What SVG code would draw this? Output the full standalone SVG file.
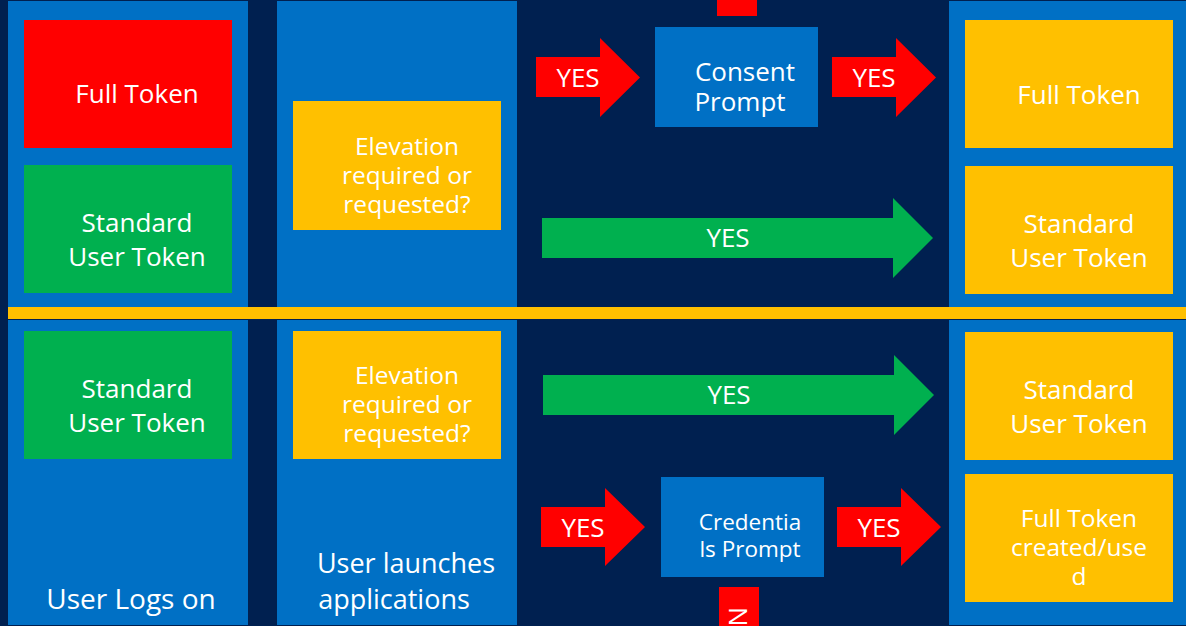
<svg xmlns="http://www.w3.org/2000/svg" width="1186" height="626" viewBox="0 0 1186 626">
<style>
.p{fill:#0070c5}.r{fill:#ff0000}.g{fill:#00b04f}.y{fill:#ffc000}
text{font-family:"Open Sans","Noto Sans","Liberation Sans",sans-serif;fill:#fff;text-anchor:middle;font-size:26px}
.s{font-size:24.500px}.m{font-size:22.500px}.a{font-size:26px}.l{font-size:28px}.k{font-size:27px}
</style>
<rect width="1186" height="626" fill="#002050"/>
<g id="panels">
<rect class="p" x="8" y="1" width="240" height="306"/><rect class="p" x="277" y="1" width="240" height="306"/><rect class="p" x="949" y="1" width="237" height="306"/>
<rect class="p" x="8" y="320" width="240" height="305"/><rect class="p" x="277" y="320" width="240" height="305"/><rect class="p" x="949" y="320" width="237" height="305"/>
<rect class="y" x="8" y="307" width="1178" height="12"/>
<text x="131" y="609" class="l">User Logs on</text>
<text x="406" y="573" class="k">User launches</text><text x="394" y="609" class="k">applications</text>
</g>
<g id="connectors">
<g id="c1"><path class="r" d="M536 57H600V38L640 77.500L600 117V97H536Z"/><text x="578" y="87" class="a">YES</text></g>
<g id="c2"><path class="r" d="M832 57H896V38L936 77.500L896 117V97H832Z"/><text x="874" y="87" class="a">YES</text></g>
<g id="c3"><path class="g" d="M542 218H893V198L933 238L893 278V258H542Z"/><text x="728" y="247" class="a">YES</text></g>
<g id="c4"><path class="g" d="M543 375H894V355L934 395L894 435V415H543Z"/><text x="729" y="404" class="a">YES</text></g>
<g id="c5"><path class="r" d="M541 507H605V488L645 527L605 566V547H541Z"/><text x="583" y="537" class="a">YES</text></g>
<g id="c6"><path class="r" d="M837 507H901V488L941 527L901 566V547H837Z"/><text x="879" y="537" class="a">YES</text></g>
<rect class="r" x="717" y="0" width="40" height="16"/>
<g id="c7"><rect class="r" x="719" y="587" width="40" height="39"/><text transform="translate(729 607) rotate(90)" style="text-anchor:start" class="a">N</text></g>
</g>
<g id="n1"><rect class="r" x="24" y="20" width="208" height="128"/><text x="137" y="103">Full Token</text></g>
<g id="n2"><rect class="g" x="24" y="165" width="208" height="128"/><text x="137" y="232">Standard</text><text x="137" y="266">User Token</text></g>
<g id="n3"><rect class="y" x="293" y="101" width="208" height="129"/><text x="407" y="155" class="s">Elevation</text><text x="407" y="184" class="s">required or</text><text x="407" y="213" class="s">requested?</text></g>
<g id="n4"><rect class="p" x="655" y="27" width="163" height="100"/><text x="745" y="81">Consent</text><text x="740" y="111">Prompt</text></g>
<g id="n5"><rect class="y" x="965" y="20" width="208" height="128"/><text x="1079" y="104">Full Token</text></g>
<g id="n6"><rect class="y" x="965" y="166" width="208" height="128"/><text x="1079" y="233">Standard</text><text x="1079" y="267">User Token</text></g>
<g id="n7"><rect class="g" x="24" y="331" width="208" height="128"/><text x="137" y="398">Standard</text><text x="137" y="432">User Token</text></g>
<g id="n8"><rect class="y" x="293" y="331" width="208" height="128"/><text x="407" y="384" class="s">Elevation</text><text x="407" y="413" class="s">required or</text><text x="407" y="442" class="s">requested?</text></g>
<g id="n9"><rect class="p" x="661" y="477" width="163" height="100"/><text x="750" y="530" class="m">Credentia</text><text x="750" y="557" class="m">ls Prompt</text></g>
<g id="n10"><rect class="y" x="965" y="332" width="208" height="128"/><text x="1079" y="399">Standard</text><text x="1079" y="433">User Token</text></g>
<g id="n11"><rect class="y" x="965" y="474" width="208" height="128"/><text x="1079" y="527" class="s">Full Token</text><text x="1079" y="556" class="s">created/use</text><text x="1079" y="585" class="s">d</text></g>
</svg>
